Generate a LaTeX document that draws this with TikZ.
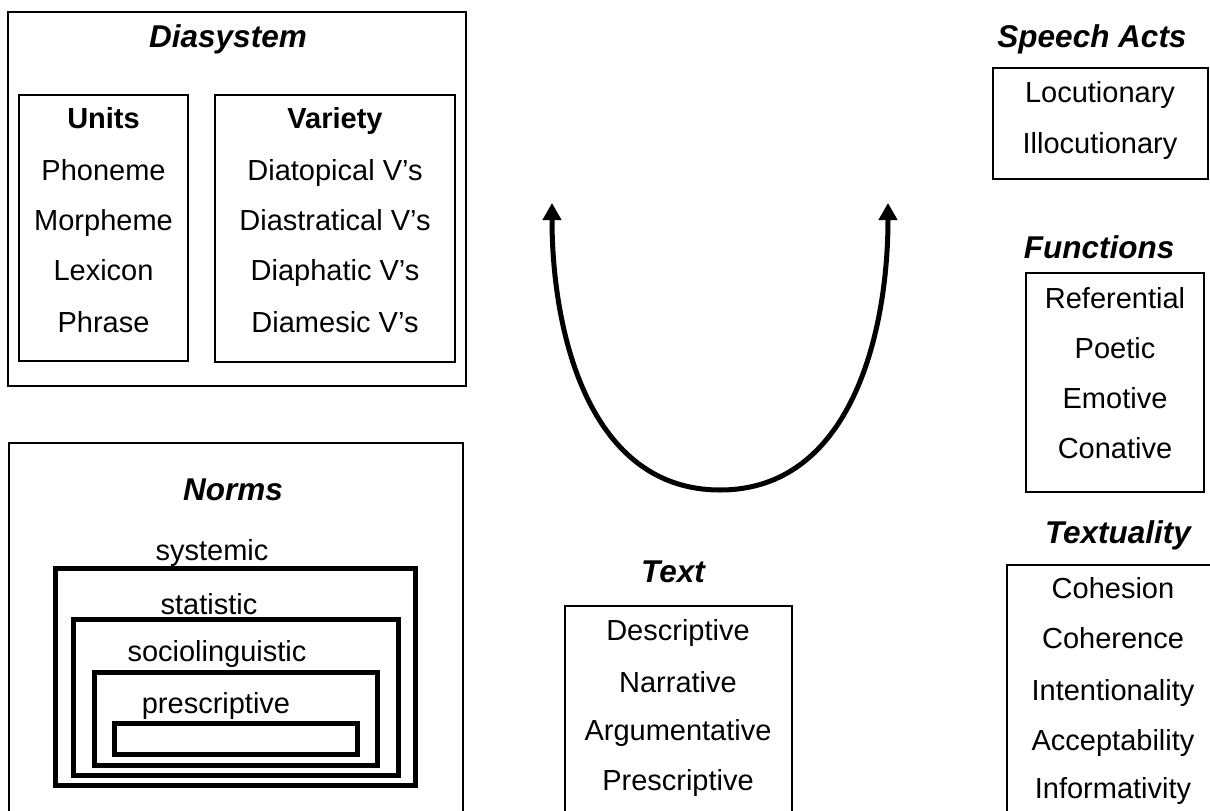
\documentclass[tikz,border=0pt]{standalone}
\usepackage{fontspec}
\setmainfont{Liberation Sans}
\usetikzlibrary{arrows.meta}
\tikzset{
  frame/.style={draw, line width=1.3pt, inner sep=0pt, outer sep=0pt, anchor=north west},
  thick frame/.style={draw, line width=5pt, inner sep=0pt, outer sep=0pt, anchor=north west},
  item/.style={anchor=base, inner sep=0pt, font=\fontsize{29}{34}\selectfont},
  head/.style={anchor=base, inner sep=0pt, font=\fontsize{31.5}{36}\selectfont\bfseries\itshape},
  subhead/.style={anchor=base, inner sep=0pt, font=\fontsize{29}{34}\selectfont\bfseries},
  bend arrow/.style={line width=5pt, -{Triangle[width=18pt,length=17pt]}}
}
\begin{document}
\begin{tikzpicture}[x=1pt,y=-1pt]
\useasboundingbox (0,0) rectangle (1210,811);
\begin{scope}
\clip (0,0) rectangle (1210,811);

% Diasystem
\node[frame, minimum width=458pt, minimum height=374pt] (dia) at (8,12) {};
\node[head] (diaT) at (228,47) {Diasystem};
\node[frame, minimum width=169pt, minimum height=266pt] (units) at (19,95) {};
\node[frame, minimum width=240pt, minimum height=267pt] (variety) at (215,95) {};
\node[subhead] (unitsT) at (103.5,128) {Units};
\node[item] (u1) at (103.5,180) {Phoneme};
\node[item] (u2) at (103.5,230) {Morpheme};
\node[item] (u3) at (103.5,280) {Lexicon};
\node[item] (u4) at (103.5,332) {Phrase};
\node[subhead] (varT) at (335,128) {Variety};
\node[item] (v1) at (335,180) {Diatopical V’s};
\node[item] (v2) at (335,230) {Diastratical V’s};
\node[item] (v3) at (335,280) {Diaphatic V’s};
\node[item] (v4) at (335,332) {Diamesic V’s};

% Norms
\node[frame, minimum width=454pt, minimum height=420pt] (norms) at (9,443) {};
\node[head] (normsT) at (233,500) {Norms};
\node[thick frame, minimum width=360pt, minimum height=217pt] (n1) at (55.5,568.5) {};
\node[thick frame, minimum width=325pt, minimum height=156pt] (n2) at (73.5,619.5) {};
\node[thick frame, minimum width=283pt, minimum height=93pt] (n3) at (94.5,672.5) {};
\node[thick frame, minimum width=243pt, minimum height=31pt] (n4) at (114.5,723.5) {};
\node[item] (n1T) at (212,560) {systemic};
\node[item] (n2T) at (209,614) {statistic};
\node[item] (n3T) at (217,661) {sociolinguistic};
\node[item] (n4T) at (216,713) {prescriptive};

% Text
\node[head] (textT) at (673,582) {Text};
\node[frame, minimum width=227pt, minimum height=260pt] (text) at (565,606) {};
\node[item] (t1) at (678,640) {Descriptive};
\node[item] (t2) at (678,692) {Narrative};
\node[item] (t3) at (678,740) {Argumentative};
\node[item] (t4) at (678,790) {Prescriptive};

% Speech acts
\node[head] (speechT) at (1092,47) {Speech Acts};
\node[frame, minimum width=215pt, minimum height=111pt] (speech) at (993,68) {};
\node[item] (s1) at (1100,102) {Locutionary};
\node[item] (s2) at (1100,153) {Illocutionary};

% Functions
\node[head] (funcT) at (1099,258) {Functions};
\node[frame, minimum width=178pt, minimum height=219pt] (func) at (1026,273) {};
\node[item] (f1) at (1115,308) {Referential};
\node[item] (f2) at (1115,358) {Poetic};
\node[item] (f3) at (1115,408) {Emotive};
\node[item] (f4) at (1115,458) {Conative};

% Textuality
\node[head] (textuT) at (1118,543) {Textuality};
\node[frame, minimum width=250pt, minimum height=300pt] (textu) at (1007,565) {};
\node[item] (x1) at (1113,598) {Cohesion};
\node[item] (x2) at (1113,648) {Coherence};
\node[item] (x3) at (1113,700) {Intentionality};
\node[item] (x4) at (1113,750) {Acceptability};
\node[item] (x5) at (1113,798) {Informativity};

% U-shaped double arrow
\coordinate (low) at (720,490);
\coordinate (ltip) at (552,203);
\coordinate (rtip) at (888,203);
\draw[bend arrow] (low) .. controls (590,490) and (552,335) .. (ltip);
\draw[bend arrow] (low) .. controls (850,490) and (888,335) .. (rtip);
\end{scope}
\end{tikzpicture}
\end{document}
